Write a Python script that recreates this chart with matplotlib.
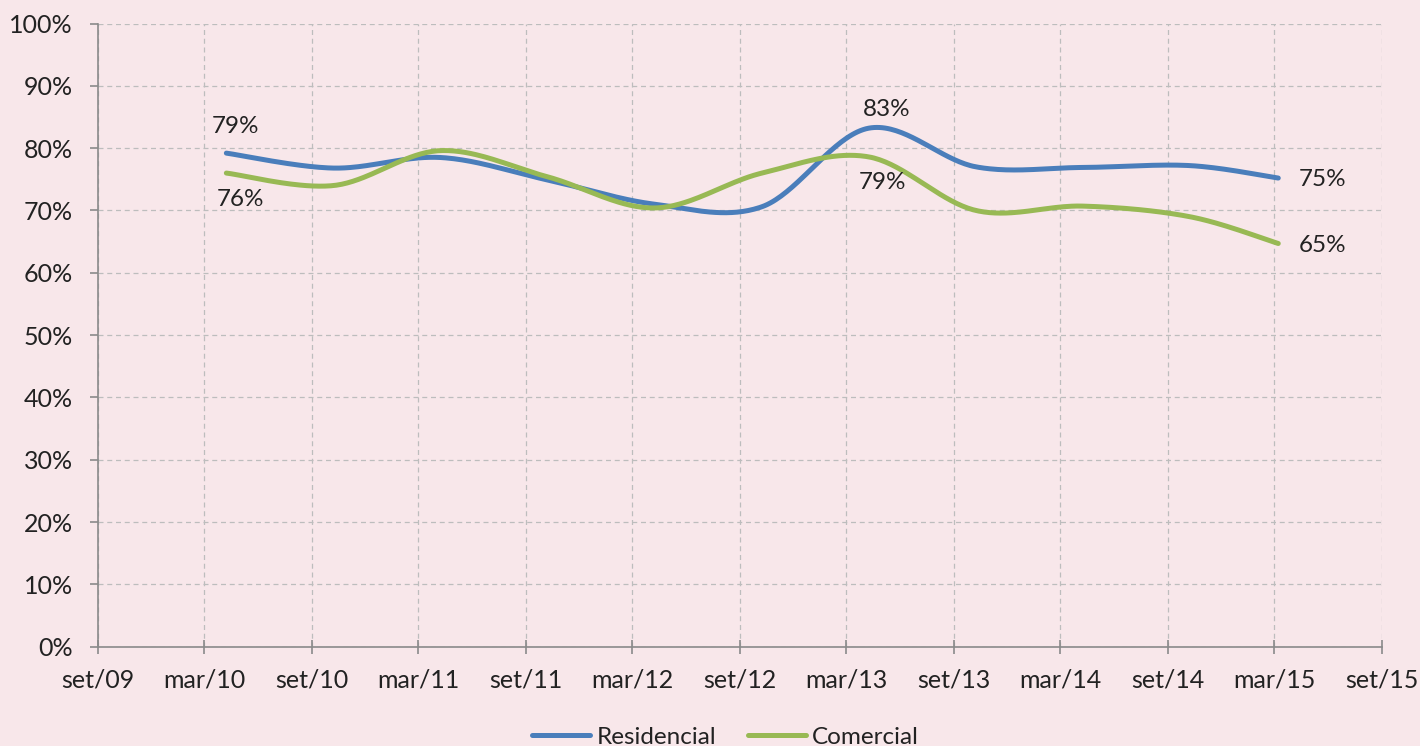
import matplotlib.pyplot as plt
import matplotlib.dates as mdates
import numpy as np
from datetime import date

# dados (taxa de ocupação, %)
datas = [date(2010, 4, 8), date(2010, 10, 8), date(2011, 4, 8), date(2011, 10, 8),
         date(2012, 4, 8), date(2012, 10, 8), date(2013, 4, 8), date(2013, 10, 8),
         date(2014, 4, 8), date(2014, 10, 8), date(2015, 3, 8)]
residencial = [79.2, 76.8, 78.5, 74.9, 71.0, 70.6, 83.2, 77.0, 76.9, 77.2, 75.2]
comercial = [76.0, 74.0, 79.6, 75.4, 70.4, 76.0, 78.6, 70.0, 70.7, 69.0, 64.7]

ticks_datas = [date(2009, 9, 1), date(2010, 3, 1), date(2010, 9, 1), date(2011, 3, 1),
               date(2011, 9, 1), date(2012, 3, 1), date(2012, 9, 1), date(2013, 3, 1),
               date(2013, 9, 1), date(2014, 3, 1), date(2014, 9, 1), date(2015, 3, 1),
               date(2015, 9, 1)]
ticks_labels = ['set/09', 'mar/10', 'set/10', 'mar/11', 'set/11', 'mar/12', 'set/12',
                'mar/13', 'set/13', 'mar/14', 'set/14', 'mar/15', 'set/15']

fundo = '#f8e7ea'
azul = '#4a7ebb'
verde = '#98b954'


def suaviza(x, y, n=40):
    # curva suavizada tipo Excel (bezier com tangentes de Catmull-Rom)
    x = np.asarray(x, float)
    y = np.asarray(y, float)
    xp = np.concatenate([[x[0]], x, [x[-1]]])
    yp = np.concatenate([[y[0]], y, [y[-1]]])
    t = np.linspace(0, 1, n)
    xs, ys = [], []
    for i in range(len(x) - 1):
        j = i + 1
        p0 = np.array([xp[j], yp[j]])
        p3 = np.array([xp[j + 1], yp[j + 1]])
        c1 = p0 + (np.array([xp[j + 1], yp[j + 1]]) - np.array([xp[j - 1], yp[j - 1]])) / 6
        c2 = p3 - (np.array([xp[j + 2], yp[j + 2]]) - np.array([xp[j], yp[j]])) / 6
        pts = ((1 - t) ** 3)[:, None] * p0 + (3 * (1 - t) ** 2 * t)[:, None] * c1 \
            + (3 * (1 - t) * t ** 2)[:, None] * c2 + (t ** 3)[:, None] * p3
        xs.extend(pts[:, 0])
        ys.extend(pts[:, 1])
    return np.array(xs), np.array(ys)


plt.rcParams['font.family'] = ['Lato', 'DejaVu Sans']

fig = plt.figure(figsize=(14.2, 7.46), dpi=100, facecolor=fundo)
ax = fig.add_axes([98 / 1420, 1 - 646.7 / 746, (1382 - 98) / 1420, (646.7 - 23.5) / 746])
ax.set_facecolor(fundo)

x = mdates.date2num(datas)
xr, yr = suaviza(x, residencial)
xc, yc = suaviza(x, comercial)
ax.plot(xr, yr, color=azul, lw=3.6, solid_capstyle='round', label='Residencial', zorder=3)
ax.plot(xc, yc, color=verde, lw=3.6, solid_capstyle='round', label='Comercial', zorder=3)

ax.set_xlim(mdates.date2num(ticks_datas[0]), mdates.date2num(ticks_datas[-1]))
ax.set_ylim(0, 100)
ax.set_xticks(mdates.date2num(ticks_datas))
ax.set_xticklabels(ticks_labels)
ax.set_yticks(range(0, 101, 10))
ax.set_yticklabels(['%d%%' % v for v in range(0, 101, 10)])

ax.grid(True, color='#bdbdbd', linestyle=(0, (4, 3)), linewidth=0.9)
ax.set_axisbelow(True)
for lado in ['top', 'right']:
    ax.spines[lado].set_visible(False)
for lado in ['left', 'bottom']:
    ax.spines[lado].set_color('#8a8a8a')
    ax.spines[lado].set_linewidth(1.2)
ax.tick_params(axis='y', direction='out', length=6, width=1.2, color='#8a8a8a',
               labelsize=18, labelcolor='#222222', pad=12)
ax.tick_params(axis='x', direction='inout', length=10, width=1.2, color='#8a8a8a',
               labelsize=18, labelcolor='#222222', pad=10.5)

# rótulos de dados
rotulos = [
    (x[0], residencial[0], '79%', (6.5, 19.5)),
    (x[0], comercial[0], '76%', (10, -18.7)),
    (x[6], residencial[6], '83%', (13, 13.5)),
    (x[6], comercial[6], '79%', (10, -18.5)),
    (x[-1], residencial[-1], '75%', (32, -1.4)),
    (x[-1], comercial[-1], '65%', (32, -1.4)),
]
for xi, yi, txt, off in rotulos:
    ax.annotate(txt, (xi, yi), xytext=off, textcoords='offset points',
                ha='center', va='center', fontsize=17.5, color='#222222')

fig.legend(loc='center', bbox_to_anchor=(0.511, 1 - 737 / 746), ncol=2, frameon=False,
           fontsize=17.5, handlelength=2.4, handletextpad=0.25, columnspacing=1.3,
           labelcolor='#222222')

plt.savefig('out.png', dpi=100, facecolor=fundo)
